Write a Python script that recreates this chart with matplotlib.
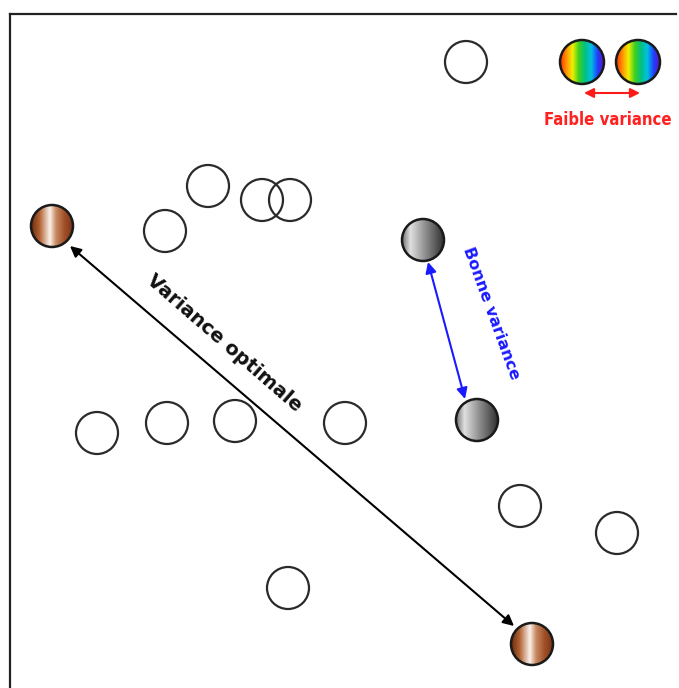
import numpy as np
import matplotlib.pyplot as plt
from matplotlib.patches import Circle
from matplotlib.colors import LinearSegmentedColormap

# hollow points (pixel-like coordinates, y grows downwards)
hollow_x = [466, 208, 262, 290, 165, 97, 167, 235, 345, 520, 617, 288]
hollow_y = [62, 186, 200, 200, 231, 433, 423, 421, 423, 506, 533, 588]

brown_x = [52, 532]
brown_y = [226, 644]
gray_x = [423, 477]
gray_y = [240, 420]
rainbow_x = [582, 638]
rainbow_y = [62, 62]

RAD = 21

rainbow = LinearSegmentedColormap.from_list(
    'rb', ['#ff3000', '#ff9000', '#f0f000', '#40d020', '#00c080',
           '#00c0e0', '#2040ff', '#6010c0'])
brown = LinearSegmentedColormap.from_list(
    'br', [(0, '#6a2a10'), (0.2, '#b06030'), (0.45, '#fbf2ec'),
           (0.6, '#c88860'), (0.8, '#a05028'), (1, '#7a3418')])
gray = LinearSegmentedColormap.from_list(
    'gr', [(0, '#707070'), (0.2, '#e0e0e0'), (0.55, '#909090'),
           (1, '#303030')])

fig = plt.figure(figsize=(6.79, 6.88), dpi=100)
ax = fig.add_axes([0, 0, 1, 1])
ax.set_xlim(0, 679)
ax.set_ylim(688, 0)
ax.axis('off')

# frame: left and top lines only
ax.plot([10, 10], [14, 688], color='#222222', lw=1.6)
ax.plot([10, 676], [14, 14], color='#222222', lw=1.6)

for x, y in zip(hollow_x, hollow_y):
    ax.add_patch(Circle((x, y), RAD, facecolor='none', edgecolor='#2a2a2a', lw=1.6))

grad = np.linspace(0, 1, 256).reshape(1, -1)


def shaded(xs, ys, cmap, r):
    for x, y in zip(xs, ys):
        c = Circle((x, y), r, facecolor='none', edgecolor='#1a1a1a', lw=1.8, zorder=3)
        ax.add_patch(c)
        im = ax.imshow(grad, extent=(x - r, x + r, y + r, y - r), cmap=cmap,
                       aspect='auto', zorder=2)
        im.set_clip_path(c)


shaded(brown_x, brown_y, brown, 21)
shaded(gray_x, gray_y, gray, 21)
shaded(rainbow_x, rainbow_y, rainbow, 22)

ax.set_xlim(0, 679)
ax.set_ylim(688, 0)

ax.annotate('', xy=(70, 246), xytext=(514, 626),
            arrowprops=dict(arrowstyle='<|-|>', color='black', lw=1.5,
                            mutation_scale=16, shrinkA=0, shrinkB=0))
ax.annotate('', xy=(428, 262), xytext=(465, 399),
            arrowprops=dict(arrowstyle='<|-|>', color='#1a1aff', lw=1.5,
                            mutation_scale=16, shrinkA=0, shrinkB=0))
ax.annotate('', xy=(584, 93), xytext=(640, 93),
            arrowprops=dict(arrowstyle='<|-|>', color='#ff1a1a', lw=1.5,
                            mutation_scale=14, shrinkA=0, shrinkB=0))

ax.text(224, 343, 'Variance optimale', rotation=-41, ha='center', va='center',
        fontsize=14, fontweight='bold', color='#111111', rotation_mode='anchor')
ax.text(491, 313, 'Bonne variance', rotation=-70, ha='center', va='center',
        fontsize=11.5, fontweight='bold', color='#1a1aff', rotation_mode='anchor')
ax.text(608, 120, 'Faible variance', ha='center', va='center',
        fontsize=12, fontweight='bold', color='#ff2020', fontstretch='condensed')

fig.savefig('out.png', dpi=100)
